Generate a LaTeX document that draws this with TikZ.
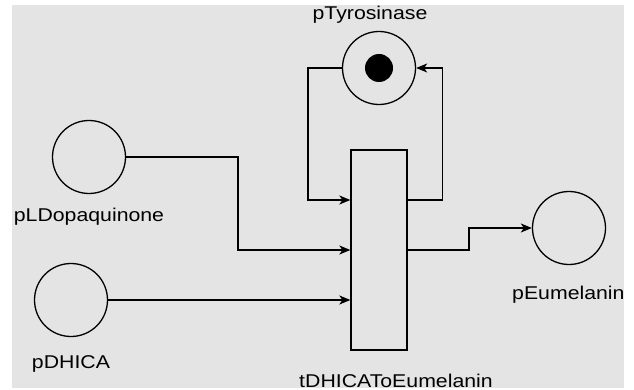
\documentclass[tikz,border=0pt]{standalone}
\usepackage{fontspec}
\setmainfont{Liberation Sans}[FakeStretch=1.15]
\usetikzlibrary{arrows.meta}
\definecolor{bggray}{HTML}{E4E4E4}
\tikzset{
  place/.style={circle,draw,line width=1.3pt,inner sep=0pt,minimum size=73pt},
  transition/.style={rectangle,draw,line width=1.3pt,inner sep=0pt,minimum width=56pt,minimum height=200pt},
  token/.style={circle,fill,inner sep=0pt,minimum size=28pt},
  lbl/.style={anchor=base,inner sep=0pt,font=\fontsize{18.5pt}{20pt}\selectfont},
  arc/.style={-{Stealth[length=11pt,width=9pt,inset=3pt]},line width=1.3pt}
}

\begin{document}
\begin{tikzpicture}[x=1pt,y=-1pt]
  \useasboundingbox (0,0) rectangle (634,390);
  \fill[bggray] (12,5) rectangle (624,388);

  \node[place] (tyr) at (379,68) {};
  \node[token] (tok) at (379,68) {};
  \node[transition] (tr) at (379,250) {};
  \node[place] (dopa) at (89,157) {};
  \node[place] (dhica) at (71,300) {};
  \node[place] (eum) at (569,228) {};

  \node[lbl] (tyrlbl) at (370,20) {pTyrosinase};
  \begin{scope}
    \clip (12,5) rectangle (624,388);
    \node[lbl] (trlbl) at (396,387) {tDHICAToEumelanin};
    \node[lbl,anchor=base west] (eumlbl) at (512,299) {pEumelanin};
  \end{scope}
  \node[lbl] (dopalbl) at (89,222) {pLDopaquinone};
  \node[lbl] (dhicalbl) at (71,368) {pDHICA};

  \draw[arc] (tyr.west) -- ++(-34,0) |- ([yshift=50pt]tr.west);
  \draw[arc] ([yshift=50pt]tr.east) -- ++(35,0) |- (tyr.east);
  \draw[arc] (dopa.east) -| (238,250) -- (tr.west);
  \draw[arc] (dhica.east) -- ([yshift=-50pt]tr.west);
  \draw[arc] (tr.east) -- (469,250) |- (eum.west);
\end{tikzpicture}
\end{document}
